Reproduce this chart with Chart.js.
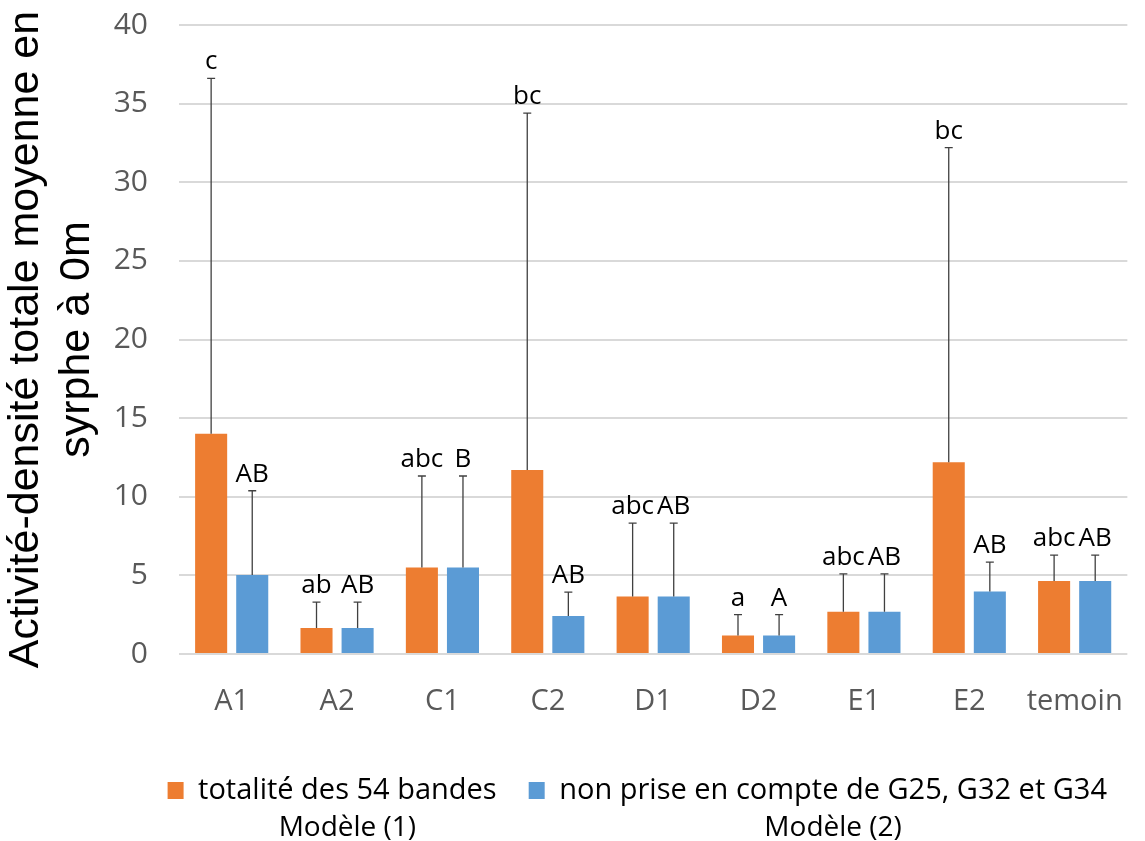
<!DOCTYPE html>
<html>
<head>
<meta charset="utf-8">
<script src="https://cdn.jsdelivr.net/npm/chart.js@4.4.1/dist/chart.umd.min.js"></script>
<style>
  body { margin: 0; background: #fff; }
  #wrap { width: 1145px; height: 841px; }
</style>
</head>
<body>
<div id="wrap"><canvas id="syrphe-chart"></canvas></div>
<script>
const categories = ['A1', 'A2', 'C1', 'C2', 'D1', 'D2', 'E1', 'E2', 'temoin']

// modele (1) : totalite des 54 bandes
const totalite = [14.0, 1.65, 5.5, 11.7, 3.65, 1.17, 2.68, 12.2, 4.65]
const totalite_err = [22.6, 1.65, 5.82, 22.7, 4.67, 1.33, 2.42, 20.0, 1.64]
const totalite_letters = ['c', 'ab', 'abc', 'bc', 'abc', 'a', 'abc', 'bc', 'abc']

// modele (2) : sans G25, G32 et G34
const sans_g = [5.03, 1.65, 5.5, 2.42, 3.65, 1.17, 2.68, 3.97, 4.65]
const sans_g_err = [5.35, 1.65, 5.82, 1.51, 4.67, 1.33, 2.42, 1.87, 1.64]
const sans_g_letters = ['AB', 'AB', 'B', 'AB', 'AB', 'A', 'AB', 'AB', 'AB']

const series_labels = ['totalité des 54 bandes', 'non prise en compte de G25, G32 et G34']
const model_labels = ['Modèle (1)', 'Modèle (2)']
const y_ticks = [0, 5, 10, 15, 20, 25, 30, 35, 40]

const FONT = '"Open Sans", sans-serif'
const LEGEND_SIZE = 29

// error bars (upper only) + letters above them
const errorBars = {
    id: 'errorBars',
    afterDatasetsDraw(chart) {
        const ctx = chart.ctx
        const yScale = chart.scales.y
        chart.data.datasets.forEach((ds, i) => {
            const meta = chart.getDatasetMeta(i)
            meta.data.forEach((bar, j) => {
                const top = yScale.getPixelForValue(ds.data[j] + ds.errors[j])
                ctx.save()
                ctx.strokeStyle = '#404040'
                ctx.lineWidth = 1.3
                ctx.beginPath()
                ctx.moveTo(bar.x, bar.y)
                ctx.lineTo(bar.x, top)
                ctx.moveTo(bar.x - 4, top)
                ctx.lineTo(bar.x + 4, top)
                ctx.stroke()
                ctx.fillStyle = '#000'
                ctx.font = '26px ' + FONT
                ctx.textAlign = 'center'
                ctx.textBaseline = 'alphabetic'
                ctx.fillText(ds.letters[j], bar.x, top - 9)
                ctx.restore()
            })
        })
    }
}

// "Modèle (n)" under each legend entry
const modelNotes = {
    id: 'modelNotes',
    afterDraw(chart) {
        const boxes = chart.legend.legendHitBoxes
        if (!boxes) return
        const ctx = chart.ctx
        ctx.save()
        ctx.fillStyle = '#000'
        ctx.font = '28px ' + FONT
        ctx.textAlign = 'center'
        ctx.textBaseline = 'middle'
        boxes.forEach((b, i) => {
            const textLeft = b.left + 16 + LEGEND_SIZE / 2
            ctx.fillText(model_labels[i], (textLeft + b.left + b.width) / 2, 828)
        })
        ctx.restore()
    }
}

new Chart(document.getElementById('syrphe-chart'), {
    type: 'bar',
    data: {
        labels: categories,
        datasets: [
            {
                label: series_labels[0],
                data: totalite,
                errors: totalite_err,
                letters: totalite_letters,
                backgroundColor: '#ED7D31',
                categoryPercentage: 0.78,
                barPercentage: 0.78,
            },
            {
                label: series_labels[1],
                data: sans_g,
                errors: sans_g_err,
                letters: sans_g_letters,
                backgroundColor: '#5B9BD5',
                categoryPercentage: 0.78,
                barPercentage: 0.78,
            },
        ]
    },
    options: {
        responsive: true,
        maintainAspectRatio: false,
        animation: false,
        layout: { padding: { top: 25, right: 6, bottom: 26, left: 0 } },
        scales: {
            x: {
                grid: { display: false },
                border: { display: false },
                ticks: { color: '#595959', font: { family: FONT, size: 29 }, padding: 22 },
                afterFit: (scale) => { scale.height = 90 }
            },
            y: {
                min: 0,
                max: 40,
                afterBuildTicks: (scale) => { scale.ticks = y_ticks.map(v => ({ value: v })) },
                grid: { color: '#D9D9D9', lineWidth: 2, tickLength: 29, tickColor: 'rgba(0,0,0,0)' },
                border: { display: false },
                ticks: { color: '#595959', font: { family: FONT, size: 30 }, padding: 2 },
                title: {
                    display: true,
                    text: ['Activité-densité totale moyenne en', 'syrphe à 0m'],
                    color: '#000',
                    font: { family: '"Liberation Sans", Arial, sans-serif', size: 43 },
                    padding: { top: 0, bottom: 0 }
                },
                afterFit: (scale) => { scale.width = 179 }
            }
        },
        plugins: {
            legend: {
                position: 'bottom',
                align: 'end',
                labels: {
                    color: '#000',
                    font: { family: FONT, size: LEGEND_SIZE },
                    boxWidth: 16,
                    boxHeight: 17,
                    padding: 32
                }
            },
            tooltip: { enabled: false }
        }
    },
    plugins: [errorBars, modelNotes]
})
</script>
</body>
</html>
